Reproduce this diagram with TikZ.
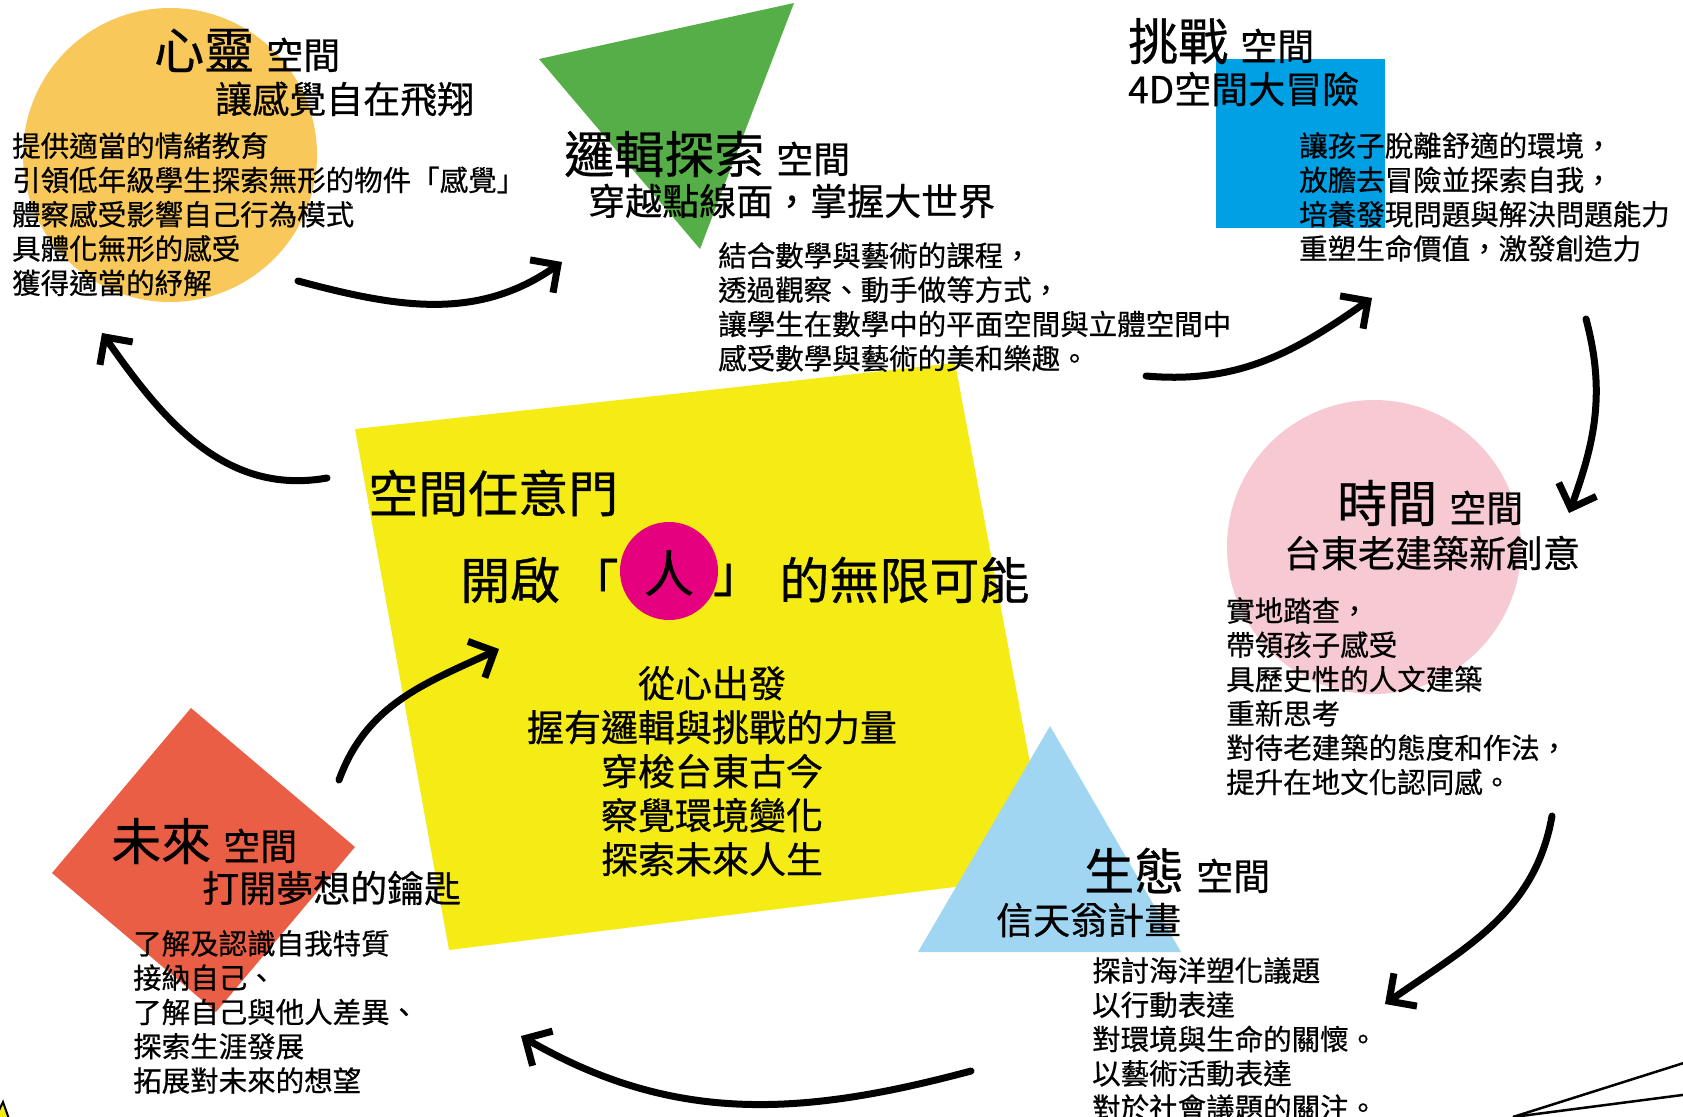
\documentclass[tikz,border=0pt]{standalone}
\usepackage{fontspec}
\setmainfont{Noto Sans CJK TC}[FakeBold=0.6]
\usepackage{tikz}
\usetikzlibrary{positioning, arrows.meta}
\definecolor{mindorange}{RGB}{249,200,91}
\definecolor{logicgreen}{RGB}{86,174,72}
\definecolor{chalblue}{RGB}{0,160,228}
\definecolor{timepink}{RGB}{246,201,211}
\definecolor{dooryellow}{RGB}{245,236,22}
\definecolor{renmagenta}{RGB}{228,0,127}
\definecolor{futurered}{RGB}{234,94,70}
\definecolor{ecoblue}{RGB}{160,214,242}
\newcommand{\fsz}[1]{\fontsize{#1}{#1}\selectfont}
\newcommand{\spacetitle}[1]{{\fsz{50}#1}\hspace{12pt}{\fsz{37}空間}}

\begin{document}
\begin{tikzpicture}[x=1pt,y=-1pt,inner sep=0pt,>={Straight Barb[length=20pt,width=40pt]}]
    \tikzstyle{title}=[anchor=base west]
    \tikzstyle{sub}=[anchor=west,font=\fsz{37}]
    \tikzstyle{body}=[anchor=north west,align=left,font=\fontsize{28.5}{34.3}\selectfont]
    \tikzstyle{brush}=[->,line width=7pt,line cap=round]

    \useasboundingbox (0,0) rectangle (1683,1116);

    % coloured shapes
    \fill[mindorange] (170,155) circle (147pt);
    \fill[logicgreen] (539,59) -- (794,3) -- (700,249) -- cycle;
    \fill[chalblue] (1216,59) rectangle (1385,228);
    \fill[timepink] (1374,547) circle (147pt);
    \fill[dooryellow] (355,429) -- (955,363) -- (1051,875) -- (449,950) -- cycle;
    \fill[renmagenta] (669,571) circle (49pt);
    \fill[futurered] (191,708) -- (355,847) -- (216,1012) -- (52,873) -- cycle;
    \fill[ecoblue] (1050,726) -- (1181,952) -- (918,952) -- cycle;
    \filldraw[fill=dooryellow,line width=2pt] (-20,1150) -- (3,1102) -- (20,1150) -- cycle;
    \draw[line width=2.5pt] (1513,1117) -- (1690,1061);
    \draw[line width=2.5pt] (1513,1117) -- (1690,1094);

    % mind
    \node[title] (mind) at (154,69) {\spacetitle{心靈}};
    \node[sub] (mindsub) at (215,99) {讓感覺自在飛翔};
    \node[body] (mindtxt) at (12,132) {提供適當的情緒教育\\引領低年級學生探索無形的物件「感覺」\\體察感受影響自己行為模式\\具體化無形的感受\\獲得適當的紓解};

    % logic
    \node[title] (logic) at (564,173) {\spacetitle{邏輯探索}};
    \node[sub] (logicsub) at (588,201) {穿越點線面，掌握大世界};
    \node[body] (logictxt) at (718,242) {結合數學與藝術的課程，\\透過觀察、動手做等方式，\\讓學生在數學中的平面空間與立體空間中\\感受數學與藝術的美和樂趣。};

    % challenge
    \node[title] (chal) at (1128,60) {\spacetitle{挑戰}};
    \node[sub] (chalsub) at (1128,89) {4D空間大冒險};
    \node[body] (chaltxt) at (1299,132) {讓孩子脫離舒適的環境，\\放膽去冒險並探索自我，\\培養發現問題與解決問題能力\\重塑生命價值，激發創造力};

    % time
    \node[title] (time) at (1337,522) {\spacetitle{時間}};
    \node[sub,anchor=center] (timesub) at (1432,553) {台東老建築新創意};
    \node[body] (timetxt) at (1226,597) {實地踏查，\\帶領孩子感受\\具歷史性的人文建築\\重新思考\\對待老建築的態度和作法，\\提升在地文化認同感。};

    % future
    \node[title] (future) at (111,860) {\spacetitle{未來}};
    \node[sub] (futuresub) at (202,888) {打開夢想的鑰匙};
    \node[body] (futuretxt) at (133,930) {了解及認識自我特質\\接納自己、\\了解自己與他人差異、\\探索生涯發展\\拓展對未來的想望};

    % ecology
    \node[title] (eco) at (1084,890) {\spacetitle{生態}};
    \node[sub] (ecosub) at (996,920) {信天翁計畫};
    \node[body] (ecotxt) at (1092,957) {探討海洋塑化議題\\以行動表達\\對環境與生命的關懷。\\以藝術活動表達\\對於社會議題的關注。};

    % centre
    \node[anchor=west,font=\fsz{50}] (door) at (368,493) {空間任意門};
    \node[anchor=west,font=\fsz{50}] (open) at (460,580) {開啟};
    \node[font=\fsz{50},right=8pt of open] (lq) {「};
    \node[font=\fsz{50}] (ren) at (669,573) {人};
    \node[font=\fsz{50},right=94pt of lq] (rq) {」};
    \node[font=\fsz{50},right=16pt of rq] (rest) {的無限可能};
    \node[anchor=north,align=center,font=\fontsize{37}{44}\selectfont] (motto) at (712,666) {從心出發\\握有邏輯與挑戰的力量\\穿梭台東古今\\察覺環境變化\\探索未來人生};

    % brush arrows
    \coordinate (a1) at (298,281);   \coordinate (b1) at (562,262);
    \coordinate (a2) at (1146,376);  \coordinate (b2) at (1372,298);
    \coordinate (a3) at (1586,319);  \coordinate (b3) at (1569,513);
    \coordinate (a4) at (1552,816);  \coordinate (b4) at (1385,1004);
    \coordinate (a5) at (971,1071);  \coordinate (b5) at (521,1036);
    \coordinate (a6) at (339,780);   \coordinate (b6) at (499,649);
    \coordinate (a7) at (327,478);   \coordinate (b7) at (102,333);
    \draw[brush] (a1) to [out=-15,in=215] (b1);
    \draw[brush] (a2) to [out=-5,in=215] (b2);
    \draw[brush] (a3) to [out=-75,in=70] (b3);
    \draw[brush] (a4) to [out=-100,in=35] (b4);
    \draw[brush] (a5) to [out=195,in=-30] (b5);
    \draw[brush] (a6) to [out=70,in=205] (b6);
    \draw[brush] (a7) to [out=190,in=-55] (b7);
\end{tikzpicture}
\end{document}
